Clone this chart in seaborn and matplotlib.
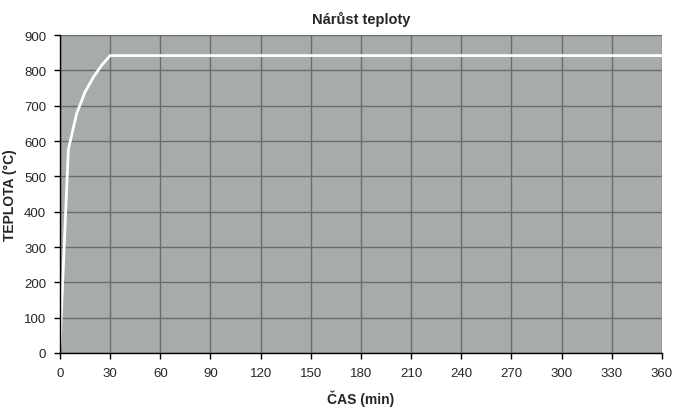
import pandas as pd
import matplotlib
matplotlib.use("Agg")
import matplotlib.pyplot as plt
import seaborn as sns

# -----------------------------------
# Data
# -----------------------------------

cas_min = [0, 5, 10, 15, 20, 25, 30, 360]
teplota = [20, 576, 678, 739, 781, 815, 842, 842]

x_ticks = list(range(0, 361, 30))
y_ticks = list(range(0, 901, 100))

df = pd.DataFrame({"cas": cas_min, "teplota": teplota})

# -----------------------------------
# Style
# -----------------------------------

sns.set_style("ticks")
plt.rcParams["font.family"] = ["Liberation Sans", "DejaVu Sans"]

fig = plt.figure(figsize=(6.83, 4.10), dpi=100)
ax = fig.add_axes([0.0878, 0.1366, 0.8814, 0.7754])

ax.set_facecolor("#a7abab")

sns.lineplot(
    data=df,
    x="cas",
    y="teplota",
    color="white",
    linewidth=2,
    ax=ax
)

ax.set_xlim(0, 360)
ax.set_ylim(0, 900)
ax.set_xticks(x_ticks)
ax.set_yticks(y_ticks)

ax.grid(True, color="#6b6d6d", linewidth=1)
ax.set_axisbelow(True)

for side in ["top", "right"]:
    ax.spines[side].set_visible(False)
ax.spines["left"].set_color("black")
ax.spines["bottom"].set_color("black")
ax.spines["left"].set_linewidth(1)
ax.spines["bottom"].set_linewidth(1)

ax.tick_params(axis="both", labelsize=9.5, length=4, width=1,
               color="black", direction="out", pad=6)

ax.set_title("Nárůst teploty", fontsize=10.5, fontweight="bold", pad=9)
ax.set_xlabel("ČAS (min)", fontsize=10, fontweight="bold", labelpad=8)
ax.set_ylabel("TEPLOTA (°C)", fontsize=10, fontweight="bold", labelpad=5)

fig.savefig("out.png", dpi=100)
plt.close(fig)
